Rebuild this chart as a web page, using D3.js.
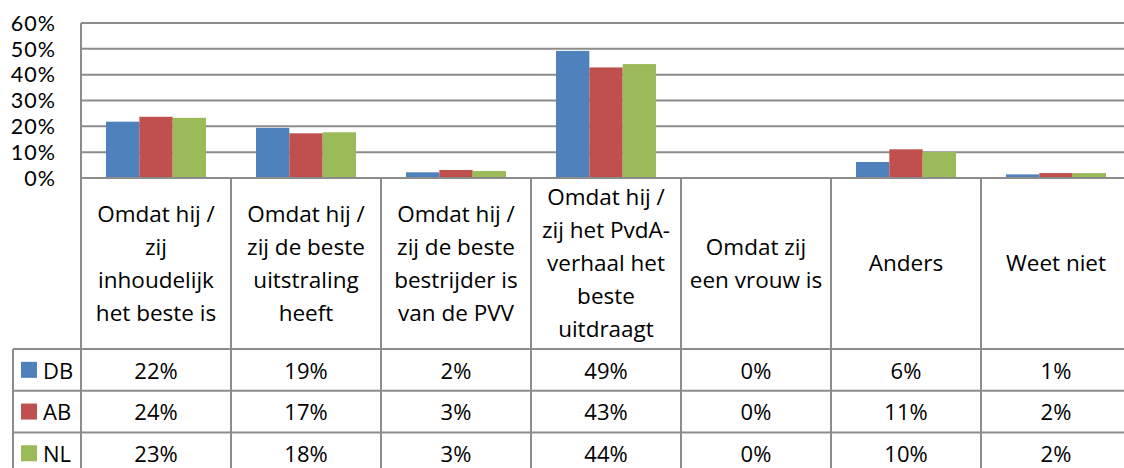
<!DOCTYPE html>
<html><head><meta charset="utf-8">
<script src="https://cdn.jsdelivr.net/npm/d3@7"></script>
<style>body{margin:0;background:#fff}svg{display:block}</style>
</head><body>
<svg id="c" width="1124" height="468"></svg>
<script>
const categories = [
  ["Omdat hij /","zij","inhoudelijk","het beste is"],
  ["Omdat hij /","zij de beste","uitstraling","heeft"],
  ["Omdat hij /","zij de beste","bestrijder is","van de PVV"],
  ["Omdat hij /","zij het PvdA-","verhaal het","beste","uitdraagt"],
  ["Omdat zij","een vrouw is"],
  ["Anders"],
  ["Weet niet"]
];
const seriesNames = ["DB","AB","NL"];
const seriesColors = ["#4F81BD","#C0504D","#9BBB59"];
const DB = [0.218, 0.194, 0.022, 0.492, 0.0, 0.062, 0.014];
const AB = [0.237, 0.173, 0.031, 0.428, 0.0, 0.111, 0.019];
const NL = [0.233, 0.177, 0.027, 0.441, 0.0, 0.101, 0.019];
const tableDB = ["22%","19%","2%","49%","0%","6%","1%"];
const tableAB = ["24%","17%","3%","43%","0%","11%","2%"];
const tableNL = ["23%","18%","3%","44%","0%","10%","2%"];
const yTicks = [0,0.1,0.2,0.3,0.4,0.5,0.6];

(function(){
const series = [DB, AB, NL];
const tables = [tableDB, tableAB, tableNL];
const svg = d3.select("#c");
const font = "'Open Sans', sans-serif";
const grid = "#8c8c8c";
const left = 81, catW = 150, plotTop = 23, base = 178;
const x0 = d3.scaleBand().domain(d3.range(categories.length)).range([left, left + catW*categories.length]).paddingInner(0).paddingOuter(0);
const x1 = d3.scaleBand().domain(d3.range(3)).range([25, 125]).padding(0);
const y = d3.scaleLinear().domain([0, 0.6]).range([base, plotTop]);
const sepX = i => left + catW*i;

svg.append("g").selectAll("line").data(yTicks).join("line")
  .attr("x1", left).attr("x2", 1124)
  .attr("y1", d => y(d)).attr("y2", d => y(d))
  .attr("stroke", grid).attr("stroke-width", 2);

svg.append("g").selectAll("text").data(yTicks).join("text")
  .attr("x", 56).attr("y", d => y(d)).attr("dy", "0.36em")
  .attr("text-anchor", "end").attr("font-family", "Lato, sans-serif").attr("font-size", 21.5)
  .attr("letter-spacing", 1).attr("fill", "#000")
  .text(d => d3.format(".0%")(d));

series.forEach((s, si) => {
  svg.append("g").selectAll("rect").data(s).join("rect")
    .attr("x", (d, i) => x0(i) + x1(si))
    .attr("width", x1.bandwidth())
    .attr("y", d => y(d))
    .attr("height", d => base - y(d))
    .attr("fill", seriesColors[si]);
});

svg.append("line").attr("x1", left).attr("x2", 1124).attr("y1", base).attr("y2", base).attr("stroke", grid).attr("stroke-width", 2);
svg.append("line").attr("x1", left).attr("x2", left).attr("y1", plotTop).attr("y2", 468).attr("stroke", grid).attr("stroke-width", 2);

const rowTop = 349, rowH = 41.7;
svg.append("g").selectAll("line").data(d3.range(1, categories.length+1)).join("line")
  .attr("x1", sepX).attr("x2", sepX)
  .attr("y1", base).attr("y2", 468)
  .attr("stroke", grid).attr("stroke-width", 2);

const lh = 33, labelMid = 263;
categories.forEach((lines, i) => {
  const t = svg.append("text").attr("font-family", font).attr("font-size", 22.5).attr("fill", "#000")
    .attr("text-anchor", "middle");
  lines.forEach((ln, k) => {
    t.append("tspan").attr("x", x0(i) + catW/2)
      .attr("y", labelMid + (k - (lines.length-1)/2)*lh).attr("dy", "0.36em").text(ln);
  });
});

svg.append("g").selectAll("line").data(d3.range(4)).join("line")
  .attr("x1", 13).attr("x2", 1124)
  .attr("y1", k => rowTop + k*rowH).attr("y2", k => rowTop + k*rowH)
  .attr("stroke", grid).attr("stroke-width", 2);
svg.append("line").attr("x1", 13).attr("x2", 13).attr("y1", rowTop).attr("y2", 468).attr("stroke", grid).attr("stroke-width", 2);

seriesNames.forEach((nm, si) => {
  const cy = rowTop + si*rowH + rowH/2;
  svg.append("rect").attr("x", 21).attr("y", cy - 8).attr("width", 16).attr("height", 16).attr("fill", seriesColors[si]);
  svg.append("text").attr("x", 43).attr("y", cy + 1).attr("dy", "0.36em").attr("font-family", font).attr("font-size", 22).text(nm);
  tables[si].forEach((v, i) => {
    svg.append("text").attr("x", x0(i) + catW/2).attr("y", cy + 1).attr("dy", "0.36em")
      .attr("text-anchor", "middle").attr("font-family", font).attr("font-size", 22).text(v);
  });
});
})();
</script>
</body></html>
